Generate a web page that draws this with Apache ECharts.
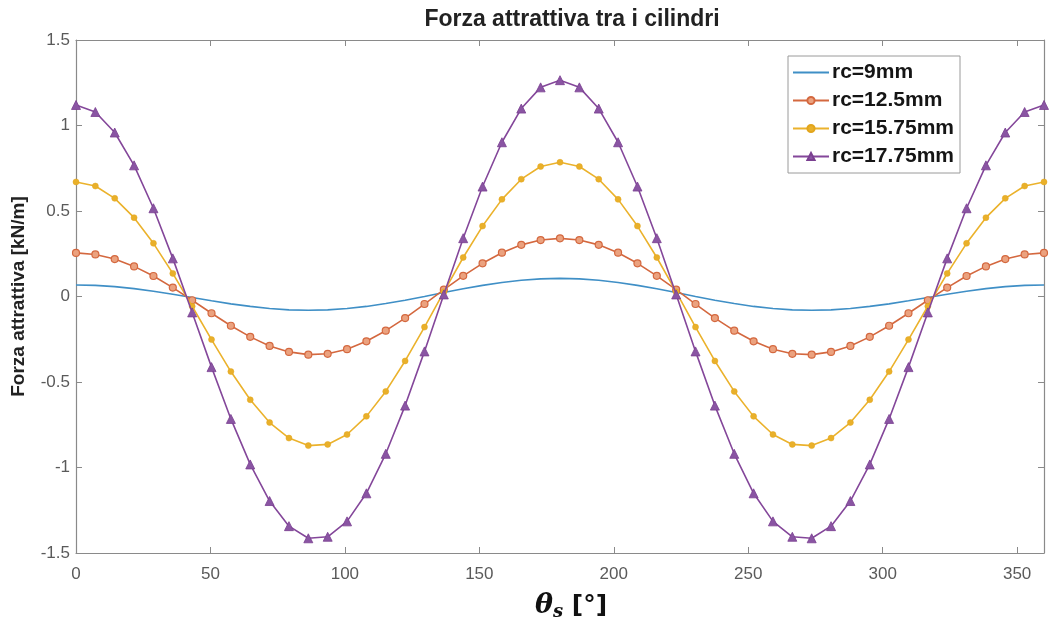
<!DOCTYPE html>
<html>
<head>
<meta charset="utf-8">
<script src="https://cdn.jsdelivr.net/npm/echarts@6/dist/echarts.min.js"></script>
<style>
  html, body { margin: 0; padding: 0; background: #ffffff; }
  #chart { width: 1049px; height: 630px; }
</style>
</head>
<body>
<div id="chart"></div>
<script>
// Angle of the rotor (degrees), sampled every 7.2°
const angles = [0, 7.2, 14.4, 21.6, 28.8, 36, 43.2, 50.4, 57.6, 64.8, 72, 79.2, 86.4, 93.6, 100.8, 108, 115.2, 122.4, 129.6, 136.8, 144, 151.2, 158.4, 165.6, 172.8, 180,
  187.2, 194.4, 201.6, 208.8, 216, 223.2, 230.4, 237.6, 244.8, 252, 259.2, 266.4, 273.6, 280.8, 288, 295.2, 302.4, 309.6, 316.8, 324, 331.2, 338.4, 345.6, 352.8, 360];

// Attractive force [kN/m] for each cylinder radius
const rc9 = [0.067, 0.065, 0.058, 0.046, 0.031, 0.013, -0.006, -0.025, -0.043, -0.058, -0.070, -0.078, -0.080, -0.078, -0.070, -0.058, -0.041, -0.022, 0.000, 0.023, 0.045, 0.065, 0.082, 0.095, 0.103, 0.106,
  0.103, 0.095, 0.082, 0.065, 0.045, 0.023, 0.000, -0.022, -0.041, -0.058, -0.070, -0.078, -0.080, -0.078, -0.070, -0.058, -0.043, -0.025, -0.006, 0.013, 0.031, 0.046, 0.058, 0.065, 0.067];
const rc12_5 = [0.255, 0.246, 0.219, 0.176, 0.120, 0.052, -0.022, -0.098, -0.171, -0.236, -0.289, -0.324, -0.340, -0.335, -0.308, -0.262, -0.200, -0.126, -0.044, 0.040, 0.121, 0.194, 0.256, 0.302, 0.330, 0.340,
  0.330, 0.302, 0.256, 0.194, 0.121, 0.040, -0.044, -0.126, -0.200, -0.262, -0.308, -0.335, -0.340, -0.324, -0.289, -0.236, -0.171, -0.098, -0.022, 0.052, 0.120, 0.176, 0.219, 0.246, 0.255];
const rc15_75 = [0.670, 0.646, 0.574, 0.461, 0.311, 0.135, -0.057, -0.252, -0.439, -0.604, -0.737, -0.828, -0.872, -0.865, -0.807, -0.701, -0.555, -0.377, -0.179, 0.027, 0.228, 0.412, 0.568, 0.686, 0.760, 0.785,
  0.760, 0.686, 0.568, 0.412, 0.228, 0.027, -0.179, -0.377, -0.555, -0.701, -0.807, -0.865, -0.872, -0.828, -0.737, -0.604, -0.439, -0.252, -0.057, 0.135, 0.311, 0.461, 0.574, 0.646, 0.670];
const rc17_75 = [1.120, 1.079, 0.959, 0.767, 0.516, 0.223, -0.093, -0.413, -0.716, -0.982, -1.196, -1.343, -1.414, -1.405, -1.315, -1.151, -0.920, -0.638, -0.321, 0.012, 0.341, 0.643, 0.902, 1.099, 1.223, 1.265,
  1.223, 1.099, 0.902, 0.643, 0.341, 0.012, -0.321, -0.638, -0.920, -1.151, -1.315, -1.405, -1.414, -1.343, -1.196, -0.982, -0.716, -0.413, -0.093, 0.223, 0.516, 0.767, 0.959, 1.079, 1.120];

const seriesNames = ['rc=9mm', 'rc=12.5mm', 'rc=15.75mm', 'rc=17.75mm'];
const xTicks = { min: 0, max: 360, step: 50 };
const yTicks = { min: -1.5, max: 1.5, step: 0.5 };

const pairs = (ys) => angles.map((a, i) => [a, ys[i]]);

const FONT = '"Liberation Sans", Arial, Helvetica, sans-serif';
const axisGray = '#8a8a8a';
const labelGray = '#5a5a5a';

const chart = echarts.init(document.getElementById('chart'), null, { renderer: 'canvas' });

const baseX = {
  type: 'value', min: xTicks.min, max: xTicks.max, interval: xTicks.step,
  axisLine: { show: true, onZero: false, lineStyle: { color: axisGray, width: 1.2 } },
  axisTick: { show: true, inside: true, length: 6, lineStyle: { color: axisGray } },
  splitLine: { show: false }
};
const baseY = {
  type: 'value', min: yTicks.min, max: yTicks.max, interval: yTicks.step,
  axisLine: { show: true, onZero: false, lineStyle: { color: axisGray, width: 1.2 } },
  axisTick: { show: true, inside: true, length: 6, lineStyle: { color: axisGray } },
  splitLine: { show: false }
};

chart.setOption({
  animation: false,
  backgroundColor: '#ffffff',
  title: {
    text: 'Forza attrattiva tra i cilindri',
    left: 567, top: 3, textAlign: 'center',
    textStyle: { fontFamily: FONT, fontSize: 23, fontWeight: 'bold', color: '#222222' }
  },
  grid: { left: 76, right: 5, top: 40, bottom: 77 },
  legend: {
    orient: 'vertical',
    left: 788, top: 56,
    data: [
      { name: seriesNames[0], itemStyle: { opacity: 0 } },
      { name: seriesNames[1] },
      { name: seriesNames[2] },
      { name: seriesNames[3] }
    ],
    backgroundColor: '#ffffff',
    borderColor: '#9a9a9a', borderWidth: 1,
    padding: [6, 6, 6, 4],
    itemWidth: 36, itemHeight: 9, itemGap: 7,
    textStyle: { fontFamily: FONT, fontSize: 21, fontWeight: 'bold', color: '#151515', padding: [0, 0, 0, -2] }
  },
  xAxis: [
    Object.assign({}, baseX, {
      position: 'bottom',
      name: '{t|θ}{s|s}{b| [°]}',
      nameLocation: 'middle', nameGap: 38,
      nameTextStyle: {
        padding: [0, 0, 0, 22],
        rich: {
          t: { fontFamily: '"DejaVu Serif", serif', fontSize: 27, fontWeight: 'bold', fontStyle: 'italic', color: '#111' },
          s: { fontFamily: '"DejaVu Serif", serif', fontSize: 18, fontWeight: 'bold', fontStyle: 'italic', color: '#111', verticalAlign: 'bottom', padding: [12, 0, 0, 0] },
          b: { fontFamily: '"DejaVu Sans", sans-serif', fontSize: 25, fontWeight: 'bold', color: '#111' }
        }
      },
      axisLabel: { show: true, showMaxLabel: false, margin: 13, fontFamily: FONT, fontSize: 17, color: labelGray }
    }),
    Object.assign({}, baseX, {
      position: 'top',
      axisLabel: { show: false }
    })
  ],
  yAxis: [
    Object.assign({}, baseY, {
      position: 'left',
      name: 'Forza attrattiva [kN/m]',
      nameLocation: 'middle', nameGap: 48, nameRotate: 90,
      nameTextStyle: { fontFamily: FONT, fontSize: 19, fontWeight: 'bold', color: '#222222' },
      axisLabel: { show: true, margin: 6, fontFamily: FONT, fontSize: 17, color: labelGray }
    }),
    Object.assign({}, baseY, {
      position: 'right',
      axisLabel: { show: false }
    })
  ],
  series: [
    {
      name: seriesNames[0], type: 'line', data: pairs(rc9),
      showSymbol: false, symbol: 'none',
      lineStyle: { color: '#3f8fc6', width: 1.6 },
      itemStyle: { color: '#3f8fc6' }, z: 2
    },
    {
      name: seriesNames[1], type: 'line', data: pairs(rc12_5),
      symbol: 'circle', symbolSize: 7,
      lineStyle: { color: '#d4683f', width: 1.6 },
      itemStyle: { color: '#eba27f', borderColor: '#d4683f', borderWidth: 1.2 }, z: 3
    },
    {
      name: seriesNames[2], type: 'line', data: pairs(rc15_75),
      symbol: 'circle', symbolSize: 6,
      lineStyle: { color: '#ebb22c', width: 1.6 },
      itemStyle: { color: '#e9b02a', borderColor: '#e2a51c', borderWidth: 0.5 }, z: 4
    },
    {
      name: seriesNames[3], type: 'line', data: pairs(rc17_75),
      symbol: 'triangle', symbolSize: 9,
      lineStyle: { color: '#84479a', width: 1.6 },
      itemStyle: { color: '#8a55a3', borderColor: '#7a3f90', borderWidth: 0.8 }, z: 5
    }
  ]
});
</script>
</body>
</html>
